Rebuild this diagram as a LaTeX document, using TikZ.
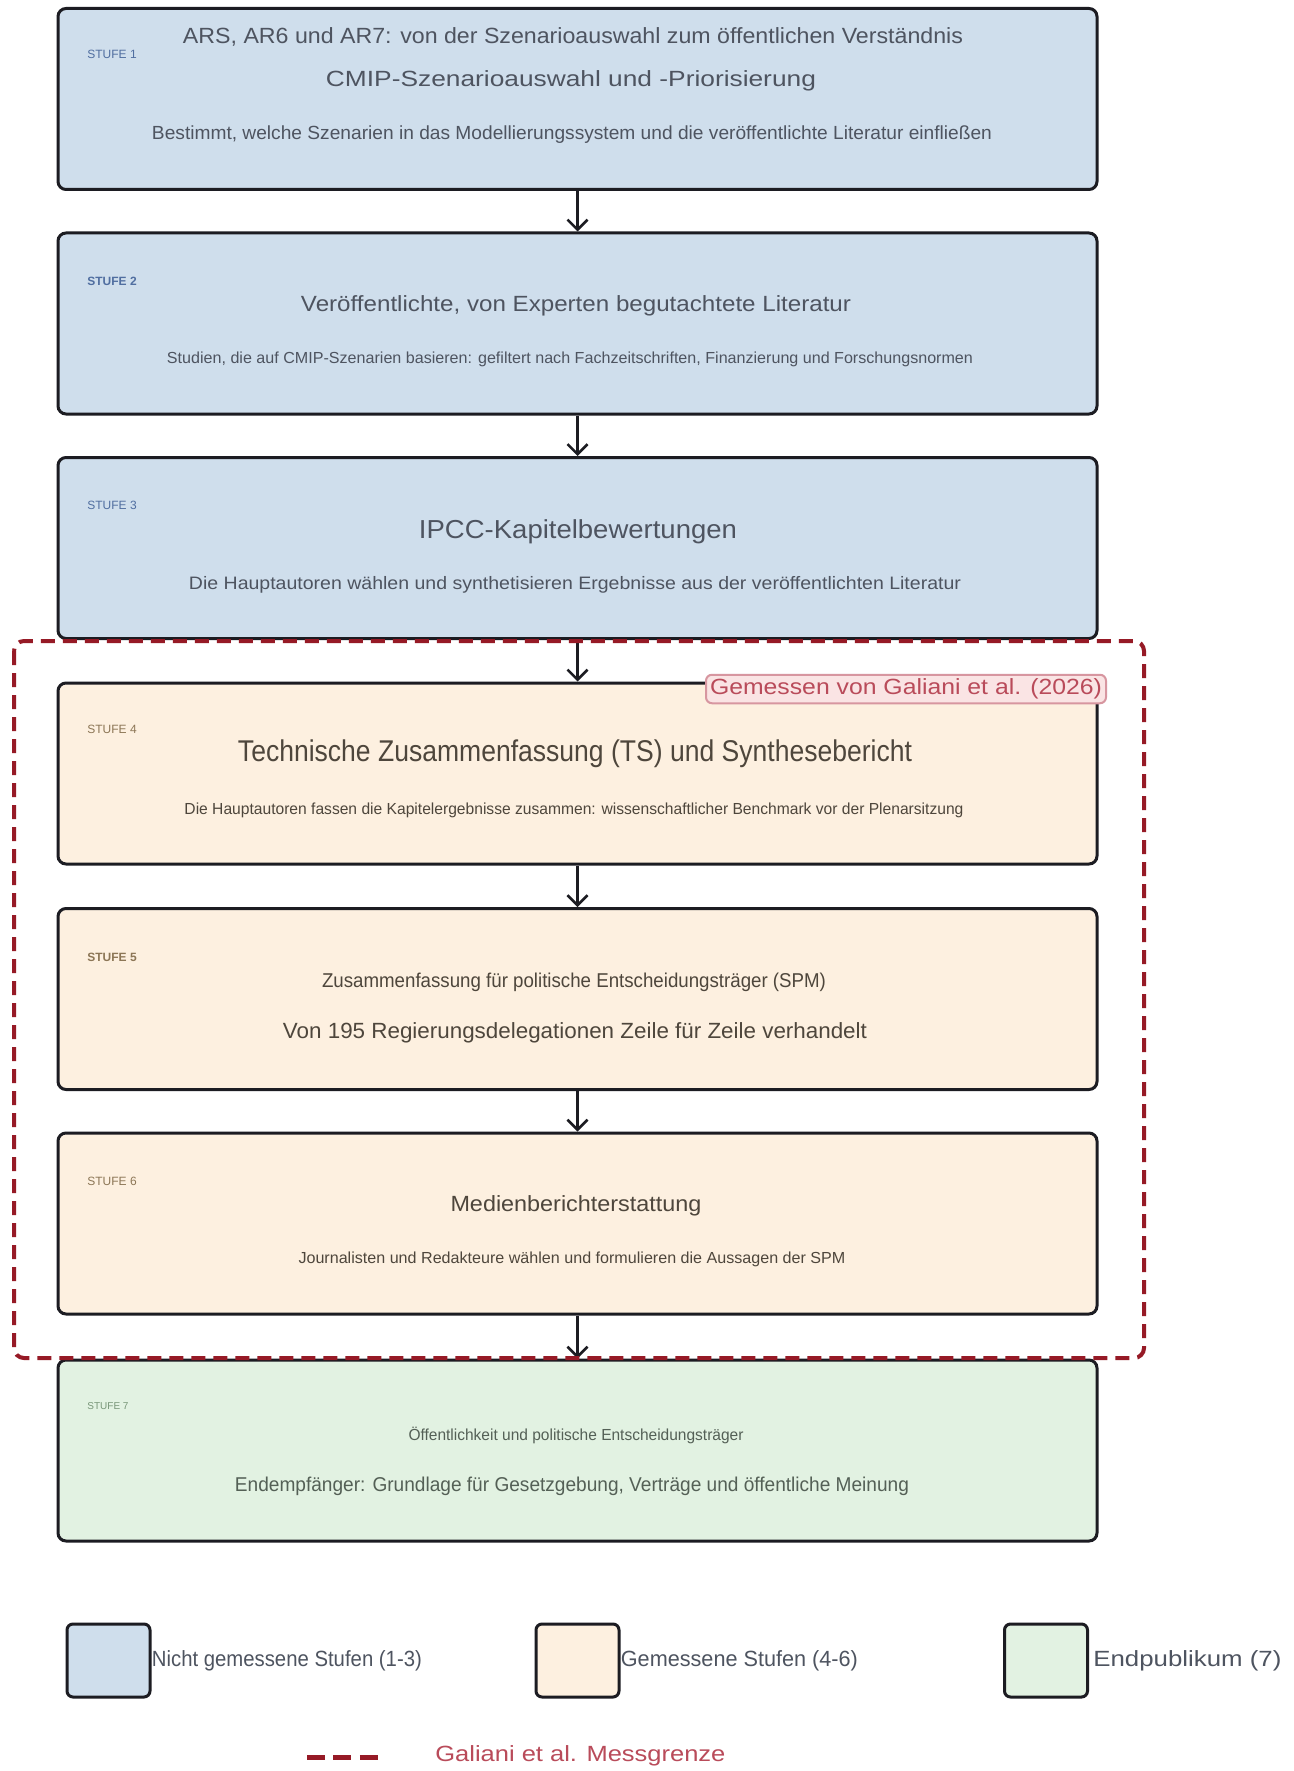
\documentclass[tikz,border=0pt]{standalone}
\usepackage{fontspec}
\usepackage{graphicx}
\setmainfont{Liberation Sans}
\usetikzlibrary{arrows.meta}
\definecolor{bluefill}{RGB}{207,222,236}
\definecolor{orangefill}{RGB}{253,240,224}
\definecolor{greenfill}{RGB}{226,242,226}
\definecolor{boxline}{RGB}{28,28,34}
\definecolor{txtblue}{RGB}{78,84,96}
\definecolor{txtorange}{RGB}{78,70,60}
\definecolor{txtgreen}{RGB}{84,96,86}
\definecolor{lblblue}{RGB}{80,110,160}
\definecolor{lblorange}{RGB}{140,118,86}
\definecolor{lblgreen}{RGB}{120,150,120}
\definecolor{measred}{RGB}{150,26,38}
\definecolor{pinkbg}{RGB}{250,228,228}
\definecolor{pinkline}{RGB}{215,150,160}
\definecolor{pinktxt}{RGB}{185,75,90}
\newcommand{\fw}[2]{\resizebox{\dimexpr #1pt/2\relax}{\height}{#2}}
\newcommand{\fs}[1]{\fontsize{#1}{#1}\selectfont}
\tikzset{
  stagebox/.style={draw=boxline, line width=1.5pt, rounded corners=4pt,
    minimum width=519.5pt, minimum height=90.5pt, inner sep=0pt},
  txt/.style={inner sep=0pt, anchor=center},
  lbl/.style={inner sep=0pt, anchor=west, font=\fs{6}},
  arr/.style={line width=1.5pt, draw=boxline, -{Straight Barb[length=5pt,width=10pt,line width=1.3pt]}},
  legbox/.style={draw=boxline, line width=1.5pt, rounded corners=3pt,
    minimum width=41.5pt, minimum height=36.5pt, inner sep=0pt},
  legtxt/.style={inner sep=0pt, anchor=west, font=\fs{11}, text=txtblue},
  measline/.style={draw=measred, line width=2pt, dash pattern=on 7pt off 4pt}
}
\begin{document}
\begin{tikzpicture}[x=0.5pt,y=-0.5pt]
\useasboundingbox (0,0) rectangle (1294,1771);
\fill[white] (0,0) rectangle (1294,1771);
% stage boxes
\node[stagebox, fill=bluefill]   (s1) at (577.5,99) {};
\node[stagebox, fill=bluefill]   (s2) at (577.5,323.5) {};
\node[stagebox, fill=bluefill]   (s3) at (577.5,548) {};
\node[stagebox, fill=orangefill] (s4) at (577.5,773.5) {};
\node[stagebox, fill=orangefill] (s5) at (577.5,999) {};
\node[stagebox, fill=orangefill] (s6) at (577.5,1223.5) {};
\node[stagebox, fill=greenfill]  (s7) at (577.5,1450.5) {};
% arrows
\draw[arr] (s1.south) -- (s2.north);
\draw[arr] (s2.south) -- (s3.north);
\draw[arr] (s3.south) -- (s4.north);
\draw[arr] (s4.south) -- (s5.north);
\draw[arr] (s5.south) -- (s6.north);
\draw[arr] (s6.south) -- (s7.north);
% stage 1
\node[lbl, text=lblblue] (l1) at (87,54) {STUFE 1};
\node[txt, text=txtblue, font=\fs{11}] (t1a) at (573,37) {\fw{780}{ARS, AR6 und AR7: von der Szenarioauswahl zum öffentlichen Verständnis}};
\node[txt, text=txtblue, font=\fs{11}] (t1b) at (571,81) {\fw{490}{CMIP-Szenarioauswahl und -Priorisierung}};
\node[txt, text=txtblue, font=\fs{9.5}] (d1) at (572,135) {\fw{840}{Bestimmt, welche Szenarien in das Modellierungssystem und die veröffentlichte Literatur einfließen}};
% stage 2
\node[lbl, text=lblblue, font=\bfseries\fs{6}] (l2) at (87,281) {STUFE 2};
\node[txt, text=txtblue, font=\fs{11}] (t2) at (576,306) {\fw{550}{Veröffentlichte, von Experten begutachtete Literatur}};
\node[txt, text=txtblue, font=\fs{8}] (d2) at (570,359) {\fw{806}{Studien, die auf CMIP-Szenarien basieren: gefiltert nach Fachzeitschriften, Finanzierung und Forschungsnormen}};
% stage 3
\node[lbl, text=lblblue] (l3) at (87,505) {STUFE 3};
\node[txt, text=txtblue, font=\fs{13}] (t3) at (578,532) {\fw{318}{IPCC-Kapitelbewertungen}};
\node[txt, text=txtblue, font=\fs{9}] (d3) at (575,585) {\fw{772}{Die Hauptautoren wählen und synthetisieren Ergebnisse aus der veröffentlichten Literatur}};
% stage 4
\node[lbl, text=lblorange] (l4) at (87,729) {STUFE 4};
\node[txt, text=txtorange, font=\fs{15}] (t4) at (575,754) {\fw{674}{Technische Zusammenfassung (TS) und Synthesebericht}};
\node[txt, text=txtorange, font=\fs{8}] (d4) at (574,810) {\fw{779}{Die Hauptautoren fassen die Kapitelergebnisse zusammen: wissenschaftlicher Benchmark vor der Plenarsitzung}};
% stage 5
\node[lbl, text=lblorange, font=\bfseries\fs{6}] (l5) at (87,957) {STUFE 5};
\node[txt, text=txtorange, font=\fs{10}] (t5) at (574,982) {\fw{504}{Zusammenfassung für politische Entscheidungsträger (SPM)}};
\node[txt, text=txtorange, font=\fs{11}] (d5) at (575,1033) {\fw{584}{Von 195 Regierungsdelegationen Zeile für Zeile verhandelt}};
% stage 6
\node[lbl, text=lblorange] (l6) at (87,1181) {STUFE 6};
\node[txt, text=txtorange, font=\fs{11}] (t6) at (576,1206) {\fw{251}{Medienberichterstattung}};
\node[txt, text=txtorange, font=\fs{8}] (d6) at (572,1259) {\fw{547}{Journalisten und Redakteure wählen und formulieren die Aussagen der SPM}};
% stage 7
\node[lbl, text=lblgreen, font=\fs{5}] (l7) at (87,1406) {STUFE 7};
\node[txt, text=txtgreen, font=\fs{8}] (t7) at (576,1435) {\fw{335}{Öffentlichkeit und politische Entscheidungsträger}};
\node[txt, text=txtgreen, font=\fs{10}] (d7) at (572,1486) {\fw{674}{Endempfänger: Grundlage für Gesetzgebung, Verträge und öffentliche Meinung}};
% measurement boundary
\draw[measline, rounded corners=5pt] (14,641) rectangle (1144,1358);
\node[draw=pinkline, line width=1pt, fill=pinkbg, rounded corners=3pt, inner xsep=2pt, inner ysep=2pt,
      text=pinktxt, font=\fs{11}] (gm) at (906,689) {\fw{392}{Gemessen von Galiani et al. (2026)}};
% legend
\node[legbox, fill=bluefill]   (lg1) at (108.5,1660.5) {};
\node[legbox, fill=orangefill] (lg2) at (577.5,1660.5) {};
\node[legbox, fill=greenfill]  (lg3) at (1046,1660.5) {};
\node[legtxt, anchor=west] (lt1) at (lg1.east) {\fw{270}{Nicht gemessene Stufen (1-3)}};
\node[legtxt, anchor=west] (lt2) at (lg2.east) {\fw{237}{Gemessene Stufen (4-6)}};
\node[legtxt, anchor=west] (lt3) at ([xshift=2pt]lg3.east) {\fw{188}{Endpublikum (7)}};
\coordinate (ml1) at (307,1757);
\coordinate (ml2) at (378,1757);
\draw[draw=measred, line width=2.5pt, dash pattern=on 9pt off 4.2pt] (ml1) -- (ml2);
\node[inner sep=0pt, anchor=west, text=pinktxt, font=\fs{11}] (mlt) at (435,1756) {\fw{290}{Galiani et al. Messgrenze}};
\end{tikzpicture}
\end{document}
